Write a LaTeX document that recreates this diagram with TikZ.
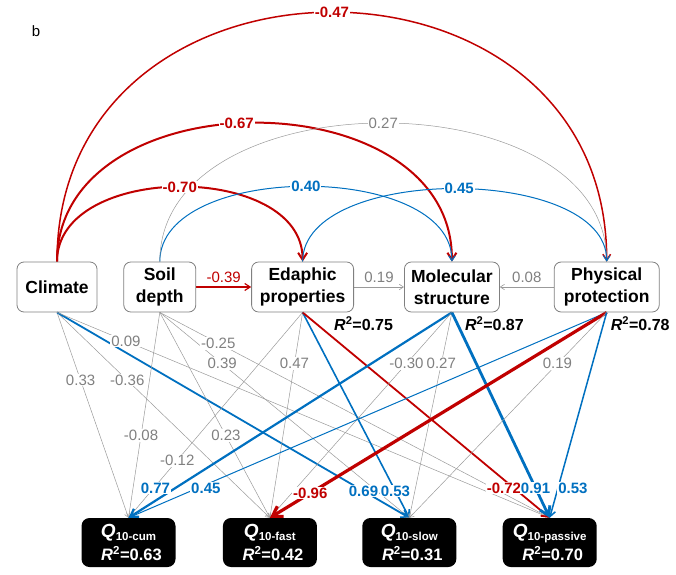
\documentclass[tikz,border=0pt]{standalone}
\usepackage{fontspec}
\setmainfont{Liberation Sans}
\usepackage{xcolor}
\usepackage{tikz}
\usetikzlibrary{arrows.meta}
\usetikzlibrary{positioning, backgrounds}
\definecolor{semRed}{HTML}{C00000}
\definecolor{semBlue}{HTML}{0070C0}
\definecolor{nsGray}{HTML}{808080}
\definecolor{lineGray}{HTML}{9A9A9A}
\tikzset{>={Straight Barb[length=3pt 2, width=4pt 2.5]}}
\tikzset{var-node/.style={draw=nsGray, line width=0.8pt, rounded corners=7pt, align=center,
    minimum height=50pt, inner xsep=2pt, font=\fontsize{17.5}{21.5}\selectfont\bfseries}}
\tikzset{q-node/.style={fill=black, text=white, rounded corners=8pt, align=center,
    minimum width=94pt, minimum height=49pt, inner sep=2pt, font=\fontsize{16.5}{23.5}\selectfont\bfseries}}
\tikzset{ns-line/.style={->, draw=lineGray, line width=0.5pt}}
\tikzset{pos-line/.style={->, draw=semBlue}}
\tikzset{neg-line/.style={->, draw=semRed}}
\tikzset{coef/.style={fill=white, inner sep=1pt, font=\fontsize{15}{15}\selectfont}}
\tikzset{ns-coef/.style={coef, text=nsGray}}
\tikzset{pos-coef/.style={coef, text=semBlue, font=\fontsize{15}{15}\selectfont\bfseries}}
\tikzset{neg-coef/.style={coef, text=semRed, font=\fontsize{15}{15}\selectfont\bfseries}}
\tikzset{r2-label/.style={inner sep=0pt, font=\fontsize{16}{16}\selectfont\bfseries}}
% line on the background layer, its coefficient on top
\newcommand{\semlink}[6]{
    \begin{pgfonlayer}{background}
        \draw[#1] (#2) #3 (#4);
    \end{pgfonlayer}
    \path (#2) #3 node[#5] {#6} (#4);
}
\newcommand{\qlabel}[2]{{\fontsize{19}{22}\selectfont\itshape Q}\raisebox{-3pt}{\fontsize{11.5}{12}\selectfont #1}\\\hspace*{6pt}{\itshape R}\textsuperscript{2}=#2}

\begin{document}
\begin{tikzpicture}[x=1pt, y=1pt]
    \useasboundingbox (0,0) rectangle (676,574);
    \node[font=\fontsize{15}{15}\selectfont] (panel) at (36,543) {b};

    % predictors
    \node[var-node, minimum width=80pt] (climate) at (57,287) {Climate};
    \node[var-node, minimum width=72pt, right=26pt of climate] (soil) {Soil\\depth};
    \node[var-node, minimum width=102pt, right=55pt of soil] (edaphic) {Edaphic\\properties};
    \node[var-node, minimum width=95pt, right=50pt of edaphic] (molecular) {Molecular\\structure};
    \node[var-node, minimum width=105pt, right=54pt of molecular] (physical) {Physical\\protection};

    \node[r2-label, below right=4pt and -20pt of edaphic.south east] (r2edaphic) {{\itshape R}\textsuperscript{2}=0.75};
    \node[r2-label, below right=4pt and -35pt of molecular.south east] (r2molecular) {{\itshape R}\textsuperscript{2}=0.87};
    \node[r2-label, below right=4pt and -49pt of physical.south east] (r2physical) {{\itshape R}\textsuperscript{2}=0.78};

    % responses
    \node[q-node] (qcum) at (128.5,31.5) {\qlabel{10-cum}{0.63}};
    \node[q-node, right=47pt of qcum] (qfast) {\qlabel{10-fast}{0.42}};
    \node[q-node, right=45pt of qfast] (qslow) {\qlabel{10-slow}{0.31}};
    \node[q-node, right=46pt of qslow] (qpassive) {\qlabel{10-passive}{0.70}};

    % arcs over the predictors
    \semlink{neg-line, line width=2pt}{climate.north}{to[out=90, in=90, looseness=1.04]}{edaphic.north}{neg-coef, pos=0.5}{-0.70}
    \semlink{neg-line, line width=2pt}{climate.north}{to[out=90, in=90, looseness=1.2]}{molecular.north}{neg-coef, pos=0.47}{-0.67}
    \semlink{neg-line, line width=1.5pt}{climate.north}{to[out=90, in=90, looseness=1.55]}{physical.north}{neg-coef, pos=0.5}{-0.47}
    \semlink{pos-line, line width=1pt}{soil.north}{to[out=90, in=90, looseness=0.88]}{molecular.north}{pos-coef, pos=0.5}{0.40}
    \semlink{ns-line}{soil.north}{to[out=90, in=90, looseness=1.06]}{physical.north}{ns-coef, pos=0.5}{0.27}
    \semlink{pos-line, line width=1pt}{edaphic.north}{to[out=90, in=90, looseness=0.82]}{physical.north}{pos-coef, pos=0.51}{0.45}

    % links along the row
    \semlink{neg-line, line width=1.2pt}{soil.east}{--}{edaphic.west}{neg-coef, font=\fontsize{15}{15}\selectfont, above=3pt}{-0.39}
    \semlink{ns-line, line width=0.6pt}{edaphic.east}{--}{molecular.west}{ns-coef, above=3pt}{0.19}
    \semlink{ns-line, line width=0.6pt}{physical.west}{--}{molecular.east}{ns-coef, above=3pt}{0.08}

    % links down to Q10
    \semlink{ns-line}{climate.south}{--}{qcum.north}{ns-coef, pos=0.33}{0.33}
    \semlink{ns-line}{climate.south}{--}{qfast.north}{ns-coef, pos=0.33}{-0.36}
    \semlink{pos-line, line width=1.8pt}{climate.south}{--}{qslow.north}{pos-coef, pos=0.87}{0.69}
    \semlink{ns-line}{climate.south}{--}{qpassive.north}{ns-coef, pos=0.14}{0.09}

    \semlink{ns-line}{soil.south}{--}{qcum.north}{ns-coef, pos=0.6}{-0.08}
    \semlink{ns-line}{soil.south}{--}{qfast.north}{ns-coef, pos=0.6}{0.23}
    \semlink{ns-line}{soil.south}{--}{qslow.north}{ns-coef, pos=0.25}{0.39}
    \semlink{ns-line}{soil.south}{--}{qpassive.north}{ns-coef, pos=0.15}{-0.25}

    \semlink{ns-line}{edaphic.south}{--}{qcum.north}{ns-coef, pos=0.72}{-0.12}
    \semlink{ns-line}{edaphic.south}{--}{qfast.north}{ns-coef, pos=0.25}{0.47}
    \semlink{pos-line, line width=1.6pt}{edaphic.south}{--}{qslow.north}{pos-coef, pos=0.87}{0.53}
    \semlink{neg-line, line width=1.8pt}{edaphic.south}{--}{qpassive.north}{neg-coef, pos=0.855, xshift=-10pt}{-0.72}

    \semlink{pos-line, line width=2.2pt}{molecular.south}{--}{qcum.north}{pos-coef, pos=0.855, xshift=-20pt}{0.77}
    \semlink{ns-line}{molecular.south}{--}{qfast.north}{ns-coef, pos=0.25}{-0.30}
    \semlink{ns-line}{molecular.south}{--}{qslow.north}{ns-coef, pos=0.25}{0.27}
    \semlink{pos-line, line width=2.8pt}{molecular.south}{--}{qpassive.north}{pos-coef, pos=0.855}{0.91}

    \semlink{pos-line, line width=1pt}{physical.south}{--}{qcum.north}{pos-coef, pos=0.855, xshift=8pt}{0.45}
    \semlink{neg-line, line width=3.2pt}{physical.south}{--}{qfast.north}{neg-coef, pos=0.88}{-0.96}
    \semlink{ns-line}{physical.south}{--}{qslow.north}{ns-coef, pos=0.25}{0.19}
    \semlink{pos-line, line width=1.5pt}{physical.south}{--}{qpassive.north}{pos-coef, pos=0.855, xshift=15pt}{0.53}
\end{tikzpicture}
\end{document}
